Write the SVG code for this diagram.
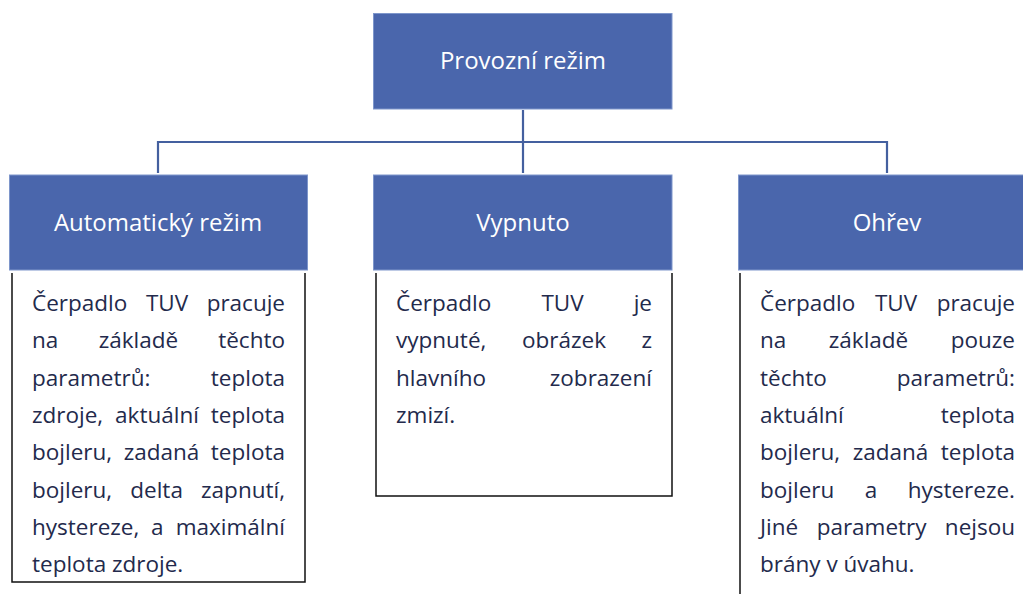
<svg xmlns="http://www.w3.org/2000/svg" width="1023" height="594" viewBox="0 0 1023 594">
<style>
.hdr{fill:#4A66AC;stroke:#7E96CB;stroke-width:1}
.ht{font-family:"Open Sans","Noto Sans",sans-serif;font-size:24px;fill:#ffffff;text-anchor:middle}
.bx{fill:none;stroke:#111111;stroke-width:1.5}
.b{font-family:"Open Sans","Noto Sans",sans-serif;font-size:22.5px;fill:#232A4C}
.m{text-anchor:middle}
.e{text-anchor:end}
.con{fill:none;stroke:#44609F;stroke-width:2.2}
</style>
<rect width="1023" height="594" fill="#ffffff"/>
<g id="connectors">
<path class="con" d="M523,110 V173"/>
<path class="con" d="M158,173 V142 H887 V173"/>
</g>
<g id="provozni-rezim">
<rect class="hdr" x="373.5" y="13.5" width="298.5" height="95.5"/>
<text class="ht" x="523" y="69">Provozní režim</text>
</g>
<g id="automaticky-rezim">
<rect class="hdr" x="9.5" y="175" width="298" height="95"/>
<text class="ht" x="158" y="231">Automatický režim</text>
<path class="bx" d="M12,273 V582 H305 V273"/>
<text class="b" x="32" y="311">Čerpadlo</text><text class="b m" x="167" y="311">TUV</text><text class="b e" x="285" y="311">pracuje</text>
<text class="b" x="32" y="348">na</text><text class="b m" x="138.4" y="348">základě</text><text class="b e" x="285" y="348">těchto</text>
<text class="b" x="32" y="386">parametrů:</text><text class="b e" x="285" y="386">teplota</text>
<text class="b" x="32" y="423">zdroje,</text><text class="b m" x="157" y="423">aktuální</text><text class="b e" x="285" y="423">teplota</text>
<text class="b" x="32" y="460">bojleru,</text><text class="b m" x="161.5" y="460">zadaná</text><text class="b e" x="285" y="460">teplota</text>
<text class="b" x="32" y="498">bojleru,</text><text class="b m" x="156.6" y="498">delta</text><text class="b e" x="285" y="498">zapnutí,</text>
<text class="b" x="32" y="535">hystereze,</text><text class="b m" x="157.2" y="535">a</text><text class="b e" x="285" y="535">maximální</text>
<text class="b" x="32" y="572">teplota zdroje.</text>
</g>
<g id="vypnuto">
<rect class="hdr" x="373.5" y="175" width="298.5" height="95"/>
<text class="ht" x="523" y="231">Vypnuto</text>
<path class="bx" d="M376,273 V496 H672 V273"/>
<text class="b" x="396" y="311">Čerpadlo</text><text class="b m" x="562.5" y="311">TUV</text><text class="b e" x="652" y="311">je</text>
<text class="b" x="396" y="348">vypnuté,</text><text class="b m" x="564" y="348">obrázek</text><text class="b e" x="652" y="348">z</text>
<text class="b" x="396" y="386">hlavního</text><text class="b e" x="652" y="386">zobrazení</text>
<text class="b" x="396" y="423">zmizí.</text>
</g>
<g id="ohrev">
<rect class="hdr" x="738.5" y="175" width="298.5" height="95"/>
<text class="ht" x="887" y="231">Ohřev</text>
<path class="bx" d="M740,273 V594"/>
<text class="b" x="760" y="311">Čerpadlo</text><text class="b m" x="896" y="311">TUV</text><text class="b e" x="1015" y="311">pracuje</text>
<text class="b" x="760" y="348">na</text><text class="b m" x="868.5" y="348">základě</text><text class="b e" x="1015" y="348">pouze</text>
<text class="b" x="760" y="386">těchto</text><text class="b e" x="1015" y="386">parametrů:</text>
<text class="b" x="760" y="423">aktuální</text><text class="b e" x="1015" y="423">teplota</text>
<text class="b" x="760" y="460">bojleru,</text><text class="b m" x="890.5" y="460">zadaná</text><text class="b e" x="1015" y="460">teplota</text>
<text class="b" x="760" y="498">bojleru</text><text class="b m" x="871" y="498">a</text><text class="b e" x="1015" y="498">hystereze.</text>
<text class="b" x="760" y="535">Jiné</text><text class="b m" x="871.6" y="535">parametry</text><text class="b e" x="1015" y="535">nejsou</text>
<text class="b" x="760" y="572">brány v úvahu.</text>
</g>
</svg>
